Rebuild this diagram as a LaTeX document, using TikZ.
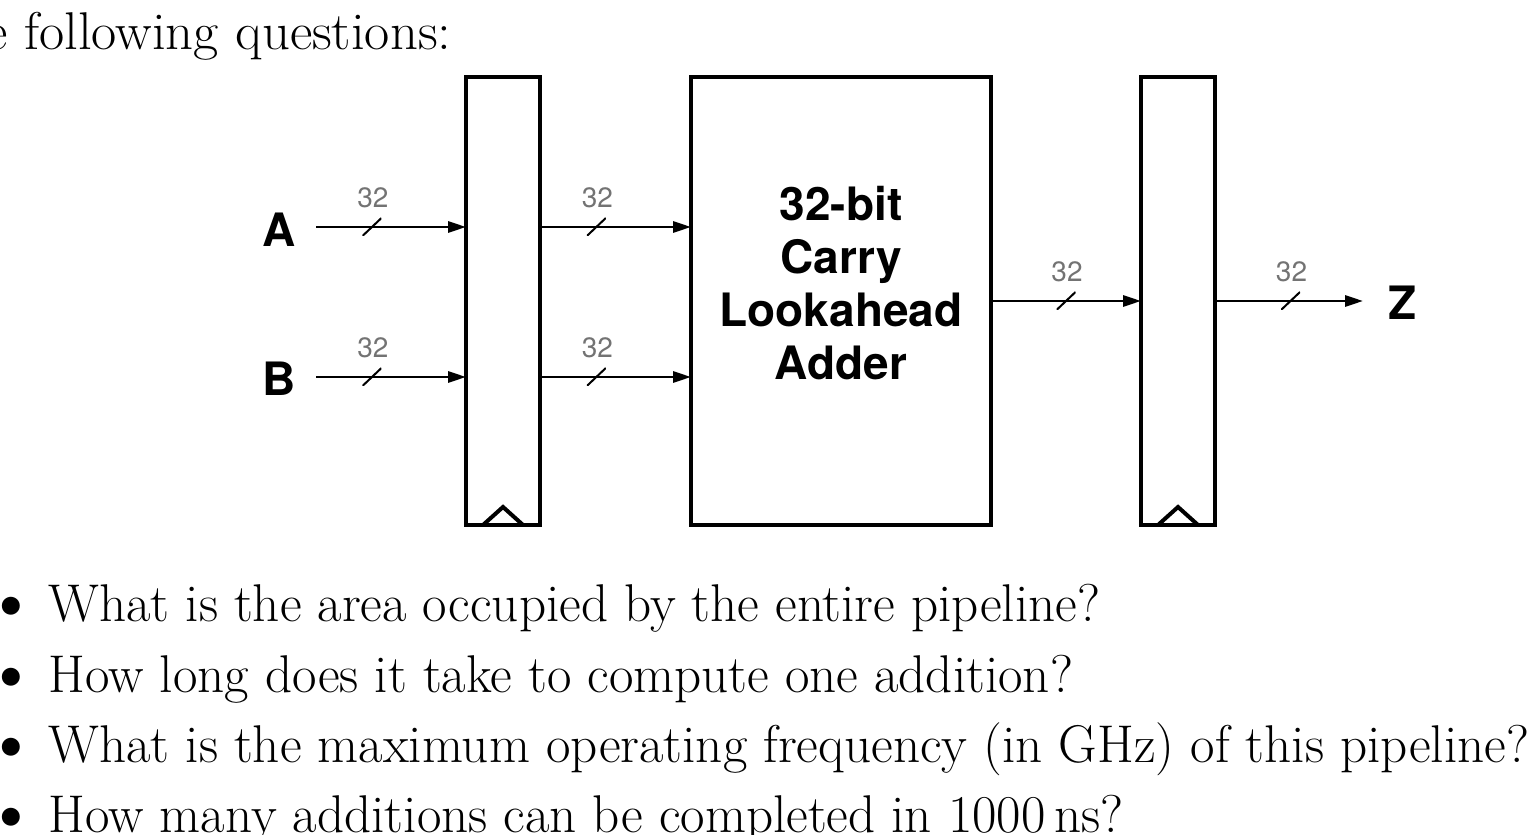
\documentclass[tikz,border=0pt]{standalone}
\usepackage{fontspec}
\newfontfamily\heros{TeX Gyre Heros}
\newfontfamily\lmbig{lmroman17-regular.otf}
\usetikzlibrary{arrows.meta}
\newcommand{\itemdot}{\makebox[16.8pt][l]{\hspace*{-6.3pt}\raisebox{-2.4pt}{\fontsize{28}{28}\selectfont\textbullet}}}

\begin{document}
\begin{tikzpicture}[x=0.35pt,y=-0.35pt,
    reg/.style={draw,line width=1.4pt,inner sep=0pt,outer sep=0pt,minimum width=25.9pt,minimum height=156.8pt},
    adder/.style={reg,minimum width=105pt},
    wire/.style={line width=0.95pt,-{Triangle[length=6.3pt,width=3.9pt]}},
    slash/.style={inner sep=0pt,minimum width=6.65pt,minimum height=6.3pt,
        path picture={\draw[-,line width=0.7pt] (path picture bounding box.south west) -- (path picture bounding box.north east);}},
    width/.style={yshift=10.15pt,xshift=0.35pt,inner sep=0pt,text=black!55,font=\heros\fontsize{9.8}{10}\selectfont},
    port/.style={inner sep=0pt,font=\heros\bfseries\fontsize{16.1}{18.6}\selectfont},
    body/.style={inner sep=0pt,font=\lmbig\fontsize{18.6}{23}\selectfont}]
    \useasboundingbox (0,0) rectangle (1533,835);
    \clip (0,0) rectangle (1533,835);

    \node[body,anchor=base east,xscale=1.03] (intro) at (452,50) {the following questions:};

    % registers and adder
    \node[reg] (r1) at (503,301) {};
    \node[adder] (cla) at (841,301) {};
    \node[reg] (r2) at (1178,301) {};
    \node[port,align=center] (clatext) at (841,283) {32-bit\\Carry\\Lookahead\\Adder};

    % clock marks
    \draw[line width=1.4pt] ([shift={(-20,0)}]r1.south) -- ([shift={(0,-18)}]r1.south) -- ([shift={(20,0)}]r1.south);
    \draw[line width=1.4pt] ([shift={(-20,0)}]r2.south) -- ([shift={(0,-18)}]r2.south) -- ([shift={(20,0)}]r2.south);

    % inputs and output
    \node[port] (a) at (279,230) {A};
    \node[port] (b) at (279,379) {B};
    \node[port] (z) at (1403,303) {Z};
    \coordinate (ina) at (316,227);
    \coordinate (inb) at (316,377);
    \coordinate (zout) at (1363,301);

    \draw[wire] (ina) -- node[pos=.373,slash] (s1) {} node[pos=.373,width] {32} (ina -| r1.west);
    \draw[wire] (inb) -- node[pos=.373,slash] (s2) {} node[pos=.373,width] {32} (inb -| r1.west);
    \draw[wire] (ina -| r1.east) -- node[pos=.373,slash] (s3) {} node[pos=.373,width] {32} (ina -| cla.west);
    \draw[wire] (inb -| r1.east) -- node[pos=.373,slash] (s4) {} node[pos=.373,width] {32} (inb -| cla.west);
    \draw[wire] (cla.east) -- node[slash] (s5) {} node[width] {32} (r2.west);
    \draw[wire] (r2.east) -- node[pos=.51,slash] (s6) {} node[pos=.51,width] {32} (zout);

    % questions
    \node[body,anchor=base west] (q1) at (0,621) {\itemdot What is the area occupied by the entire pipeline?};
    \node[body,anchor=base west] (q2) at (0,692) {\itemdot How long does it take to compute one addition?};
    \node[body,anchor=base west] (q3) at (0,762) {\itemdot What is the maximum operating frequency (in GHz) of this pipeline?};
    \node[body,anchor=base west] (q4) at (0,832) {\itemdot How many additions can be completed in 1000\,ns?};
\end{tikzpicture}
\end{document}
